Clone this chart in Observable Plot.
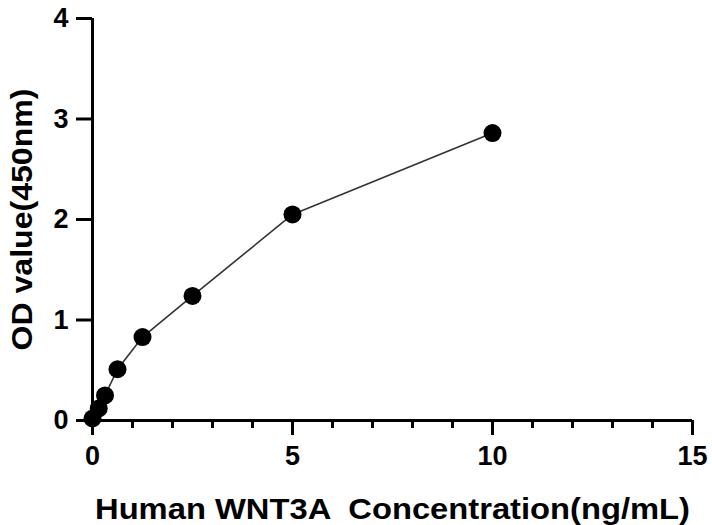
<!DOCTYPE html>
<html>
<head>
<meta charset="utf-8">
<script src="https://cdn.jsdelivr.net/npm/d3@7"></script>
<script src="https://cdn.jsdelivr.net/npm/@observablehq/plot@0.6"></script>
<style>
  html, body { margin: 0; padding: 0; background: #fff; }
  svg { font-family: "Liberation Sans", Arial, sans-serif; font-weight: bold; }
</style>
</head>
<body>
<div id="chart"></div>
<script>
const concentration = [0, 0.156, 0.3125, 0.625, 1.25, 2.5, 5, 10];
const od = [0.02, 0.12, 0.25, 0.51, 0.83, 1.24, 2.05, 2.86];
const xMajorTicks = [0, 5, 10, 15];
const xMinorTicks = d3.range(0, 16, 1);
const yTicks = [0, 1, 2, 3, 4];
const xLabel = "Human WNT3A  Concentration(ng/mL)";
const yLabel = "OD value(450nm)";

const data = concentration.map((c, i) => ({x: c, y: od[i]}));

const plot = Plot.plot({
  width: 712,
  height: 525,
  marginLeft: 92,
  marginRight: 20,
  marginTop: 18,
  marginBottom: 105,
  style: {fontFamily: "'Liberation Sans', Arial, sans-serif", fontWeight: "bold", fontSize: "26px", background: "#fff", color: "#000"},
  x: {domain: [0, 15]},
  y: {domain: [0, 4]},
  marks: [
    Plot.axisX(xMinorTicks, {tickSize: 8, strokeWidth: 3, text: null, label: null}),
    Plot.axisX(xMajorTicks, {tickSize: 15, strokeWidth: 3, tickPadding: 10, fontSize: 27, label: null, tickFormat: d => d}),
    Plot.axisY(yTicks, {tickSize: 16, strokeWidth: 3, tickPadding: 8, fontSize: 27, label: null, tickFormat: d => d}),
    Plot.ruleY([0], {x1: 0, x2: 15, stroke: "#000", strokeWidth: 3}),
    Plot.ruleX([0], {y1: 0, y2: 4, stroke: "#000", strokeWidth: 3}),
    Plot.line(data, {x: "x", y: "y", stroke: "#333", strokeWidth: 1.6}),
    Plot.dot(data, {x: "x", y: "y", r: 9, fill: "#000", stroke: "none"}),
    Plot.text([xLabel], {frameAnchor: "bottom", dy: 98, fontSize: 30, fontWeight: "bold", fill: "#000", className: "xlab"}),
    Plot.text([yLabel], {frameAnchor: "left", dx: -70, rotate: -90, textAnchor: "middle", fontSize: 30, fontWeight: "bold", fill: "#000", className: "ylab"})
  ]
});
const svg = d3.select(plot);
svg.selectAll('g[aria-label$="tick label"]').attr("font-size", 27).style("font-size", "27px");
svg.selectAll('g[aria-label$="tick label"] text').attr("font-size", 27).style("font-size", "27px");
svg.selectAll(".xlab text").attr("textLength", 595).attr("lengthAdjust", "spacingAndGlyphs");
svg.selectAll(".ylab text").attr("textLength", 262).attr("lengthAdjust", "spacingAndGlyphs");
document.getElementById("chart").appendChild(plot);
</script>
</body>
</html>
